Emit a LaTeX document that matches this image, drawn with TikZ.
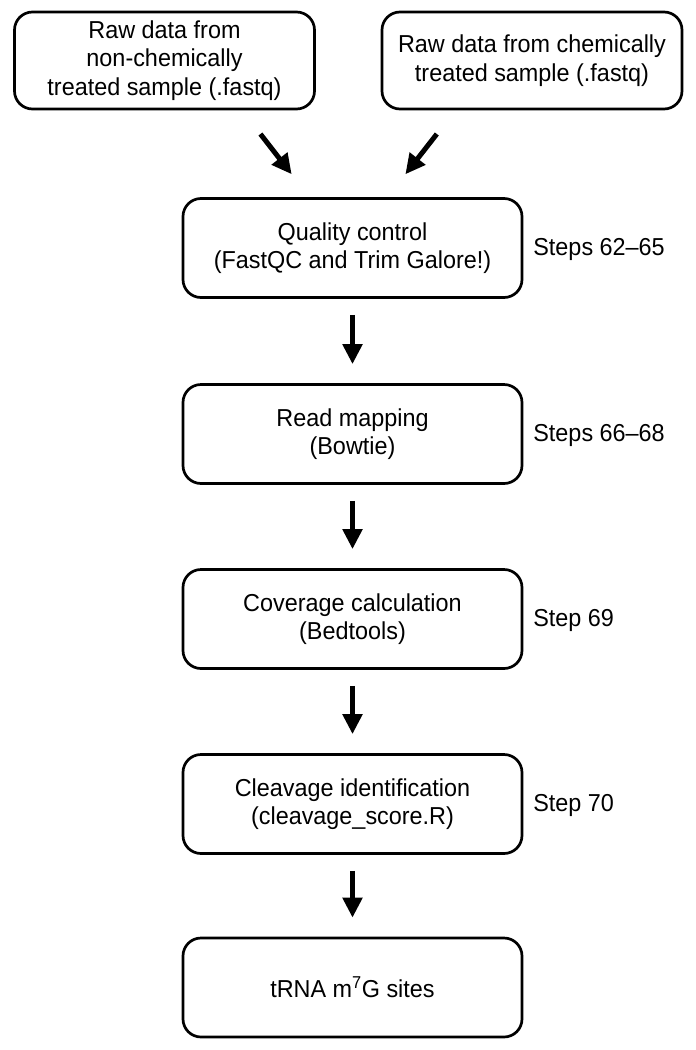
\documentclass[tikz,border=0pt]{standalone}
\usepackage{fontspec}
\setmainfont{Liberation Sans}[FakeStretch=0.955]
\usepackage{tikz}
\usetikzlibrary{arrows.meta}
\tikzset{every picture/.style={line width=0.75pt}}
\tikzset{
  stepbox/.style={draw, line width=2.7pt, rounded corners=18pt, align=center,
    inner sep=0pt, minimum width=339pt, minimum height=99pt,
    font=\fontsize{24.5}{28.5}\selectfont},
  rawbox/.style={stepbox, minimum width=300pt, minimum height=97pt},
  steplbl/.style={anchor=base west, inner sep=0pt, font=\fontsize{24.5}{28.5}\selectfont},
  flow/.style={line width=5pt, -{Triangle[length=20pt,width=19pt]}}
}
\begin{document}
\begin{tikzpicture}[x=1pt,y=-1pt]
\useasboundingbox (0,0) rectangle (696,1050);
\node[rawbox] (1) at (164.5,60.5)
  {Raw data from\\non-chemically\\treated sample (.fastq)};
\node[rawbox] (2) at (532,60.5)
  {Raw data from chemically\\treated sample (.fastq)};
%
\node[stepbox] (3) at (352.5,248) {Quality control\\(FastQC and Trim Galore!)};
\node[stepbox] (4) at (352.5,434) {Read mapping\\(Bowtie)};
\node[stepbox] (5) at (352.5,619) {Coverage calculation\\(Bedtools)};
\node[stepbox] (6) at (352.5,804) {Cleavage identification\\(cleavage\_score.R)};
\node[stepbox] (7) at (352.5,987.5) {tRNA m\textsuperscript{7}G sites};
%
\node[steplbl] (03) at (533,255) {Steps 62--65};
\node[steplbl] (04) at (533,441) {Steps 66--68};
\node[steplbl] (05) at (533,626) {Step 69};
\node[steplbl] (06) at (533,811) {Step 70};
%
\coordinate (1a) at ([xshift=77.5pt]1.south);
\coordinate (3a) at ([xshift=-43pt]3.north);
\coordinate (2a) at ([xshift=-76.7pt]2.south);
\coordinate (3b) at ([xshift=35pt]3.north);
\draw[flow, shorten <=30pt, shorten >=29pt] (1a) to (3a);
\draw[flow, shorten <=30pt, shorten >=29pt] (2a) to (3b);
%
\foreach \Source/\Target in {%
	3.south/4.north,
	4.south/5.north,
	5.south/6.north,
	6.south/7.north%
    }
\draw[flow, shorten <=16pt, shorten >=19pt] (\Source) to (\Target);
\end{tikzpicture}
\end{document}
